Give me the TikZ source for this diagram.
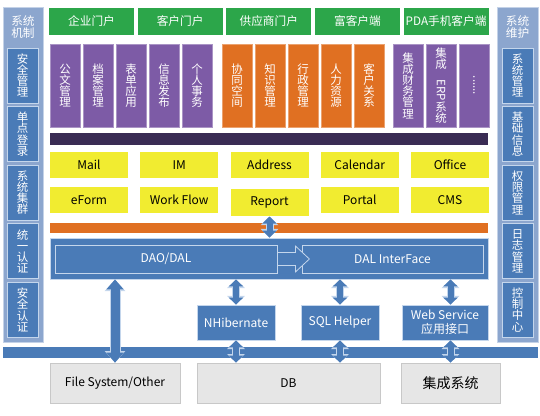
\documentclass[tikz,border=0pt]{standalone}
\usepackage{fontspec}
\setmainfont{Noto Sans CJK SC}
\usepackage{graphicx}
\usetikzlibrary{arrows.meta}

\definecolor{portalgreen}{RGB}{44,166,74}
\definecolor{modpurple}{RGB}{125,91,166}
\definecolor{modorange}{RGB}{224,112,34}
\definecolor{darkbar}{RGB}{58,44,84}
\definecolor{compyellow}{RGB}{241,236,48}
\definecolor{layerblue}{RGB}{74,123,183}
\definecolor{panelblue}{RGB}{140,166,206}
\definecolor{paneledge}{RGB}{196,210,231}
\definecolor{edgeblue}{RGB}{196,214,236}
\definecolor{storegrey}{RGB}{230,230,230}
\definecolor{storeedge}{RGB}{200,200,200}

\tikzset{every picture/.style={line width=0.75pt}}

\begin{document}
\begin{tikzpicture}[x=0.75pt,y=0.75pt,yscale=-1,xscale=1,
    portalbox/.style={fill=portalgreen, text=white, minimum width=63.75pt, minimum height=20.25pt, inner sep=0pt, font=\fontsize{8.75}{10}\selectfont},
    column/.style={fill=#1, draw=white!35!#1, line width=0.5pt, text=white, minimum width=22.5pt, minimum height=62.25pt, inner sep=0pt, align=center, font=\fontsize{8.6}{8.4}\selectfont},
    sidebox/.style={fill=layerblue, draw=edgeblue, line width=0.6pt, text=white, minimum width=23.25pt, minimum height=41.25pt, inner sep=0pt, align=center, font=\fontsize{8.6}{8.4}\selectfont},
    sidehead/.style={text=white, align=center, inner sep=0pt, font=\fontsize{8.75}{9.5}\selectfont},
    compbox/.style={fill=compyellow, minimum width=58.5pt, minimum height=19.5pt, inner sep=0pt, font=\fontsize{9}{10}\selectfont},
    layerbox/.style={fill=layerblue, draw=edgeblue, line width=0.6pt, text=white, inner sep=0pt, align=center, font=\fontsize{9}{10.5}\selectfont},
    storebox/.style={fill=storegrey, draw=storeedge, line width=0.5pt, minimum height=30pt, inner sep=0pt, font=\fontsize{9}{10}\selectfont},
    duplex/.style={draw=layerblue, line width=4.5pt, {Triangle[width=10.5pt,length=5.25pt]}-{Triangle[width=10.5pt,length=5.25pt]},
        preaction={draw=edgeblue, line width=6pt, {Triangle[width=13pt,length=6.5pt]}-{Triangle[width=13pt,length=6.5pt]}}},
    bigduplex/.style={draw=layerblue, line width=6.75pt, {Triangle[width=12.5pt,length=7.5pt]}-{Triangle[width=12.5pt,length=7.5pt]},
        preaction={draw=edgeblue, line width=8.25pt, {Triangle[width=15pt,length=8.75pt]}-{Triangle[width=15pt,length=8.75pt]}}}
]
\useasboundingbox (0,0) rectangle (540,415);

%Shape: Rectangle [side panels]
\draw[fill=panelblue, draw=paneledge] (3,7) rectangle (43,342);
\draw[fill=panelblue, draw=paneledge] (497,7) rectangle (538,342);
\node[sidehead] (mechhead) at (23,27) {系统\\机制};
\node[sidehead] (mainthead) at (517.5,27) {系统\\维护};
\foreach \t [count=\i from 0] in {{安\\全\\管\\理},{单\\点\\登\\录},{系\\统\\集\\群},{统\\一\\认\\证},{安\\全\\认\\证}}
    \node[sidebox] (mech\i) at (22.5,75.5+58.6*\i) {\t};
\foreach \t [count=\i from 0] in {{系\\统\\管\\理},{基\\础\\信\\息},{权\\限\\管\\理},{日\\志\\管\\理},{控\\制\\中\\心}}
    \node[sidebox] (maint\i) at (517.5,75.5+58.6*\i) {\t};

% Portals
\foreach \t [count=\i from 0] in {企业门户,客户门户,供应商门户,富客户端,PDA手机客户端}
    \node[portalbox] (portal\i) at (91.5+88.65*\i,21.5) {\t};

% Modules
\foreach \t [count=\i from 0] in {{公\\文\\管\\理},{档\\案\\管\\理},{表\\单\\应\\用},{信\\息\\发\\布},{个\\人\\事\\务}}
    \node[column=modpurple] (oa\i) at (65+33*\i,85.5) {\t};
\foreach \t [count=\i from 0] in {{协\\同\\空\\间},{知\\识\\管\\理},{行\\政\\管\\理},{人\\力\\资\\源},{客\\户\\关\\系}}
    \node[column=modorange] (biz\i) at (237+33*\i,85.5) {\t};
\node[column=modpurple] (integ0) at (408,85.5) {集\\成\\财\\务\\管\\理};
\node[column=modpurple] (integ1) at (441,85.5) {集\\成\\\rotatebox{-90}{ERP}\\系\\统};
\node[column=modpurple] (integ2) at (474,85.5) {\rotatebox{-90}{......}};

%Shape: Rectangle [bars]
\draw[fill=darkbar, draw=none] (50,133) rectangle (488,145);
\draw[fill=modorange, draw=none] (50,223) rectangle (488,233);

% Components
\foreach \t/\n [count=\i from 0] in {Mail/mail,IM/im,Address/address,Calendar/calendar,Office/office}
    \node[compbox] (\n) at (89+90.25*\i,165) {\t};
\foreach \t/\n/\i in {eForm/eform/0,Work Flow/workflow/1,Portal/portal/3,CMS/cms/4}
    \node[compbox] (\n) at (89+90.25*\i,200) {\t};
\node[compbox, minimum height=20.25pt] (report) at (269.5,202.5) {Report};

% Data access layer
\node[layerbox, minimum width=328.5pt, minimum height=30.75pt] (dal) at (269,258.5) {};
\node[layerbox, minimum width=166.5pt, minimum height=21pt] (dao) at (166,259) {DAO/DAL};
\node[layerbox, minimum width=135.75pt, minimum height=21pt] (dalif) at (392.5,259) {DAL InterFace};
\draw[fill=layerblue, draw=edgeblue, line width=0.6pt] (dao.east) ++(0,-6.5) -- ++(18,0) -- ++(0,-6.5) -- ++(14,13) -- ++(-14,13) -- ++(0,-6.5) -- ++(-18,0) -- cycle;

\node[layerbox, minimum width=58.5pt, minimum height=26.25pt] (nhib) at (236,322.5) {NHibernate};
\node[layerbox, minimum width=58.5pt, minimum height=26.25pt] (sqlh) at (340,322.5) {SQL Helper};
\node[layerbox, minimum width=64.5pt, minimum height=26.25pt] (websvc) at (445,322.5) {Web Service\\应用接口};

%Shape: Rectangle [bottom bar]
\draw[fill=layerblue, draw=none] (3,347) rectangle (538,358);

% Storage
\node[storebox, minimum width=97.5pt] (fs) at (115,383) {File System/Other};
\node[storebox, minimum width=137.25pt] (db) at (288.5,383) {DB};
\node[storebox, minimum width=74.25pt, font=\fontsize{10.5}{12}\selectfont] (jcxt) at (450.5,383) {集成系统};

% Links
\draw[duplex] (report.south) -- (report.south |- dal.north);
\draw[bigduplex] (fs.north |- dal.south) -- (fs.north);
\draw[duplex] (nhib.north |- dal.south) -- (nhib.north);
\draw[duplex] (nhib.south) -- (nhib.south |- db.north);
\draw[duplex] (sqlh.north |- dal.south) -- (sqlh.north);
\draw[duplex] (sqlh.south) -- (sqlh.south |- db.north);
\draw[duplex] (jcxt.north |- dal.south) -- (jcxt.north |- websvc.north);
\draw[duplex] (jcxt.north |- websvc.south) -- (jcxt.north);
\end{tikzpicture}
\end{document}
